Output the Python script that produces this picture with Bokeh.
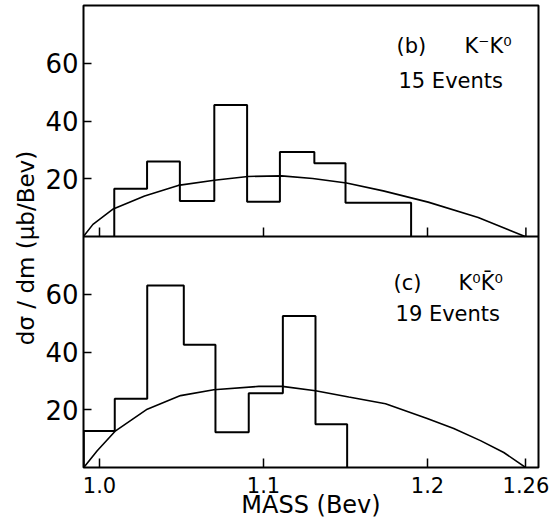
import math
from bokeh.plotting import figure
from bokeh.models import Range1d, FixedTicker, Span, Label, Title
from bokeh.embed import file_html
from bokeh.resources import INLINE

# ---------------- data ----------------
mass_ticks = [1.0, 1.1, 1.2, 1.26]
mass_tick_labels = ["1.0", "1.1", "1.2", "1.26"]
y_ticks = [20, 40, 60]

# (b) K-K0, 15 events
kk_edges = [1.009, 1.029, 1.049, 1.070, 1.090, 1.110, 1.131, 1.150, 1.190]
kk_values = [16.5, 26.0, 12.3, 45.5, 12.0, 29.3, 25.4, 11.7]
kk_curve_mass = [0.9902, 0.996, 1.008, 1.0275, 1.048, 1.070, 1.0905, 1.111,
                 1.130, 1.1506, 1.173, 1.2004, 1.2309, 1.2595]
kk_curve_val = [0, 4.2, 9.4, 14.0, 17.7, 19.5, 20.8, 21.0, 20.1, 18.5, 15.8,
                11.9, 6.6, 0]

# (c) K0 K0bar, 19 events
k0_edges = [0.9904, 1.0093, 1.0291, 1.0514, 1.0707, 1.0910, 1.1118, 1.1317, 1.1510]
k0_values = [12.6, 23.8, 63.0, 42.5, 12.2, 25.7, 52.5, 15.0]
k0_curve_mass = [0.9904, 0.9986, 1.0098, 1.0291, 1.0494, 1.0697, 1.0971, 1.1114,
                 1.1317, 1.1520, 1.1744, 1.1998, 1.2160, 1.2323, 1.2465, 1.2598]
k0_curve_val = [0, 5.8, 12.7, 20.2, 24.9, 26.9, 28.1, 28.1, 26.6, 24.4, 22.1,
                17.0, 13.5, 9.3, 5.2, 0]

PANEL = 80  # height of each panel in value units


def steps(edges, vals):
    xs = [edges[0]]
    ys = [0]
    for i, v in enumerate(vals):
        xs += [edges[i], edges[i + 1]]
        ys += [v, v]
    xs.append(edges[-1])
    ys.append(0)
    return xs, ys


FONT = "DejaVu Sans"
X0, X1 = 0.99024, 1.26768

p = figure(width=549, height=521,
           x_range=Range1d(X0, X1), y_range=Range1d(0, 2 * PANEL),
           output_backend="svg", toolbar_location=None,
           min_border_left=83, min_border_right=11, min_border_top=5,
           min_border_bottom=53)
p.extra_y_ranges = {"top": Range1d(-PANEL, PANEL)}
p.grid.visible = False
p.outline_line_color = "black"
p.outline_line_width = 2
p.background_fill_color = "white"
p.border_fill_color = "white"

# x axis
xa = p.xaxis[0]
xa.ticker = FixedTicker(ticks=mass_ticks)
xa.major_label_overrides = {t: s for t, s in zip(mass_ticks, mass_tick_labels)}
xa.axis_line_color = None
xa.major_tick_in = 9
xa.major_tick_out = 0
xa.major_tick_line_width = 1.5
xa.minor_tick_line_color = None
xa.major_label_text_font = FONT
xa.major_label_text_font_size = "21px"
xa.major_label_text_color = "black"
xa.major_label_standoff = 9
xa.axis_label = "MASS (Bev)"
xa.axis_label_text_font = FONT
xa.axis_label_text_font_size = "24px"
xa.axis_label_text_font_style = "normal"
xa.axis_label_text_color = "black"
xa.axis_label_standoff = -5

# y axis: both panels share one left axis
ya = p.yaxis[0]
ya.ticker = FixedTicker(ticks=y_ticks + [t + PANEL for t in y_ticks])
ya.major_label_overrides = {t + PANEL: str(t) for t in y_ticks}
ya.axis_line_color = None
ya.major_tick_in = 8
ya.major_tick_out = 0
ya.major_tick_line_width = 1.5
ya.minor_tick_line_color = None
ya.major_label_text_font = FONT
ya.major_label_text_font_size = "26px"
ya.major_label_text_color = "black"
ya.major_label_standoff = 5

p.add_layout(Title(text="dσ / dm  (μb/Bev)", align="right", offset=138,
                   standoff=7, text_font=FONT, text_font_size="23px",
                   text_font_style="normal", text_color="black"), "left")

# divider between panels
p.add_layout(Span(location=0, dimension="width", y_range_name="top",
                  line_color="black", line_width=2))
# ticks on the upper panel's baseline
p.ray(x=mass_ticks, y=[0] * len(mass_ticks), y_range_name="top", length=9,
      length_units="screen", angle=math.pi / 2, line_color="black", line_width=1.5)

# upper panel
hx, hy = steps(kk_edges, kk_values)
p.line(hx, hy, y_range_name="top", line_color="black", line_width=2)
p.line(kk_curve_mass, kk_curve_val, y_range_name="top", line_color="black", line_width=1.6)

# lower panel
hx, hy = steps(k0_edges, k0_values)
p.line(hx, hy, line_color="black", line_width=2)
p.line(k0_curve_mass, k0_curve_val, line_color="black", line_width=1.6)

def lab(x, y, text, rng=None):
    kw = dict(x=x, y=y, text=text, text_font=FONT, text_font_size="21px",
              text_align="left", text_baseline="middle", text_color="black")
    if rng:
        kw["y_range_name"] = rng
    p.add_layout(Label(**kw))

lab(1.1811, 66.1, "(b)", "top")
lab(1.2226, 66.1, "K⁻K⁰", "top")
lab(1.1823, 54.0, "15  Events", "top")
lab(1.1793, 64.0, "(c)")
lab(1.2189, 64.0, "K⁰K̄⁰")
lab(1.1805, 53.3, "19  Events")

open("out.html", "w").write(file_html(p, INLINE))
